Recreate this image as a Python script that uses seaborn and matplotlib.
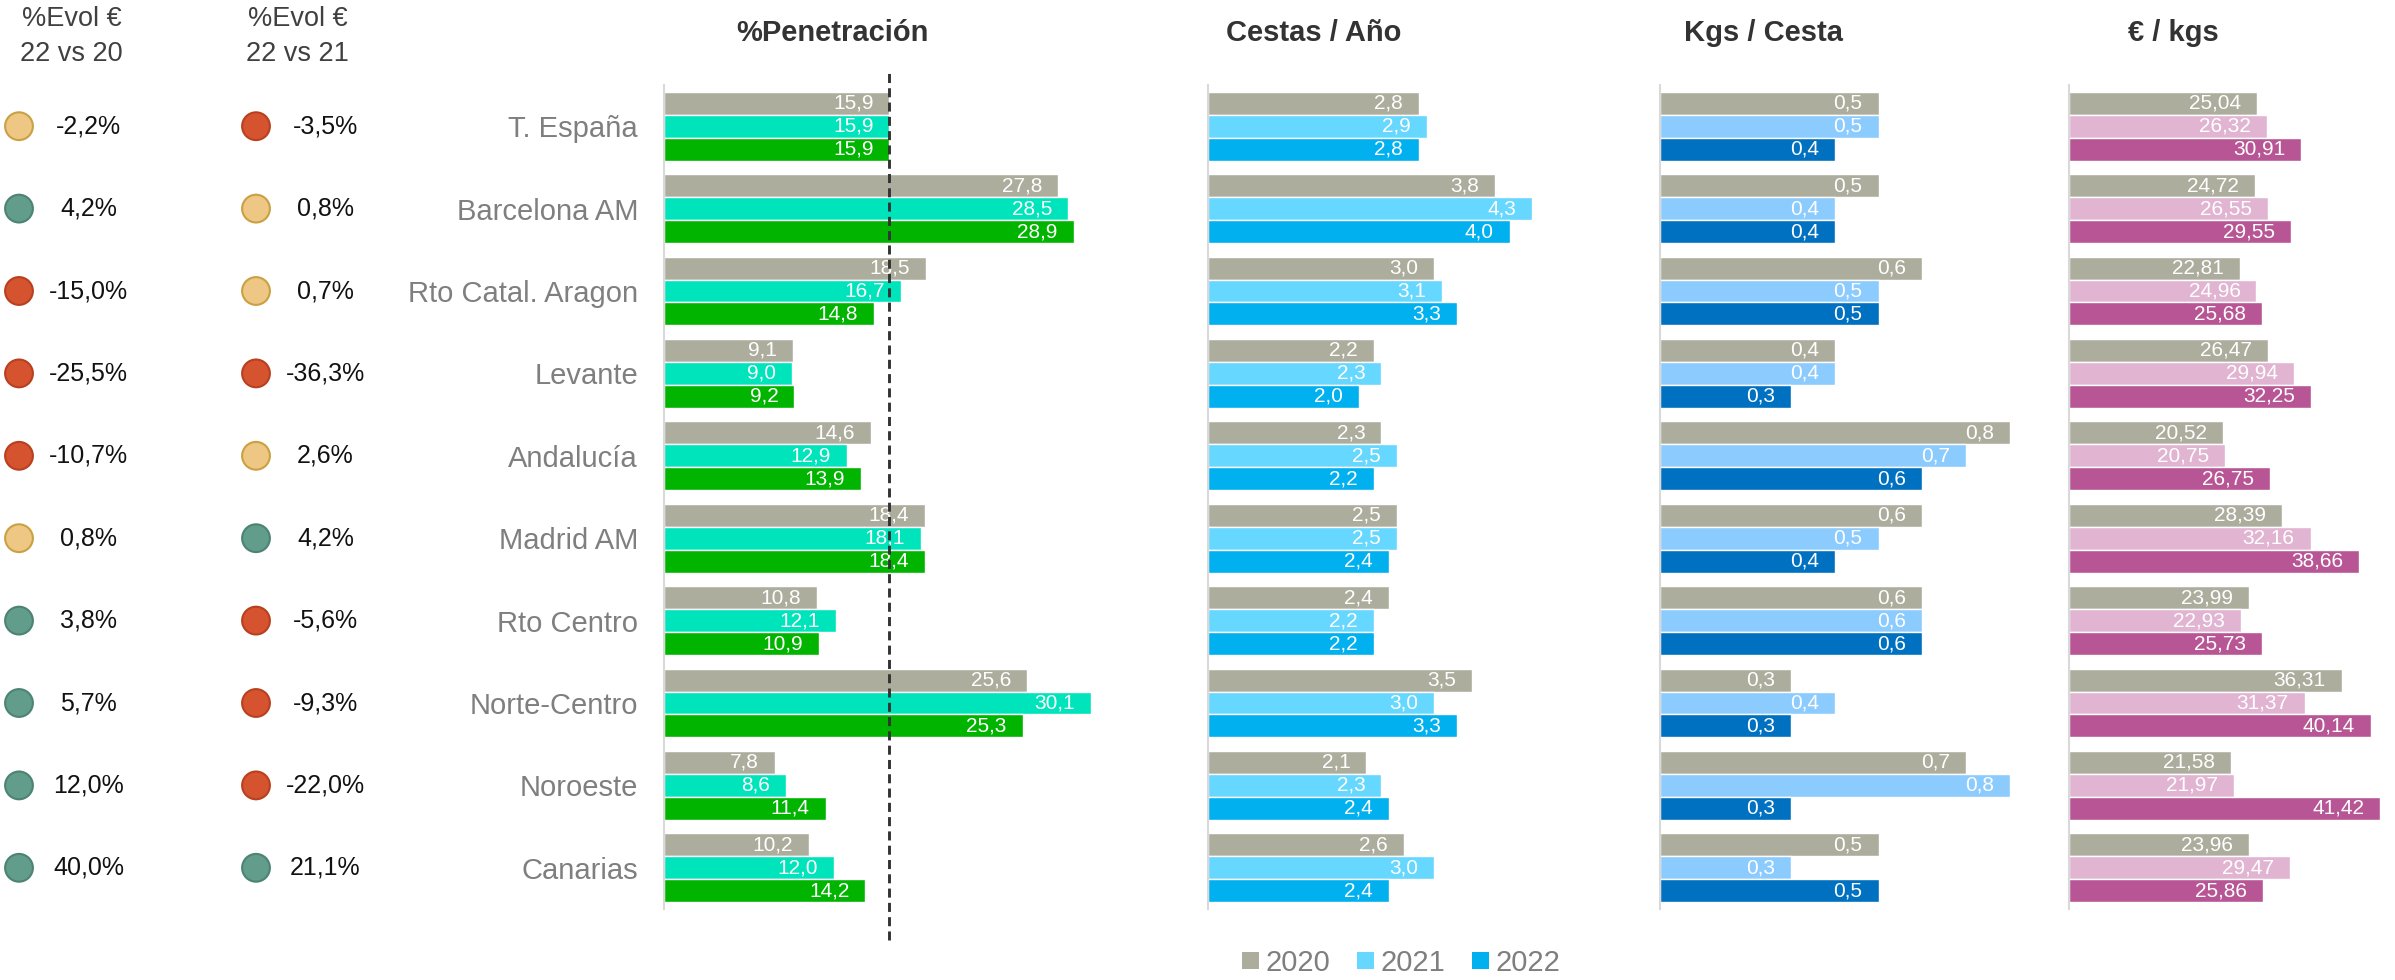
"""Regional panel: evolution dots plus penetration / baskets / kgs / price bars."""

import matplotlib.pyplot as plt
import pandas as pd
import seaborn as sns
from matplotlib.patches import Patch

W, H, DPI = 2395, 980, 100

regions = ["T. España", "Barcelona AM", "Rto Catal. Aragon", "Levante", "Andalucía",
           "Madrid AM", "Rto Centro", "Norte-Centro", "Noroeste", "Canarias"]
years = ["2020", "2021", "2022"]

evol_22_20 = [-2.2, 4.2, -15.0, -25.5, -10.7, 0.8, 3.8, 5.7, 12.0, 40.0]
evol_22_21 = [-3.5, 0.8, 0.7, -36.3, 2.6, 4.2, -5.6, -9.3, -22.0, 21.1]

pen_2020 = [15.9, 27.8, 18.5, 9.1, 14.6, 18.4, 10.8, 25.6, 7.8, 10.2]
pen_2021 = [15.9, 28.5, 16.7, 9.0, 12.9, 18.1, 12.1, 30.1, 8.6, 12.0]
pen_2022 = [15.9, 28.9, 14.8, 9.2, 13.9, 18.4, 10.9, 25.3, 11.4, 14.2]

cestas_2020 = [2.8, 3.8, 3.0, 2.2, 2.3, 2.5, 2.4, 3.5, 2.1, 2.6]
cestas_2021 = [2.9, 4.3, 3.1, 2.3, 2.5, 2.5, 2.2, 3.0, 2.3, 3.0]
cestas_2022 = [2.8, 4.0, 3.3, 2.0, 2.2, 2.4, 2.2, 3.3, 2.4, 2.4]

kgs_2020 = [0.5, 0.5, 0.6, 0.4, 0.8, 0.6, 0.6, 0.3, 0.7, 0.5]
kgs_2021 = [0.5, 0.4, 0.5, 0.4, 0.7, 0.5, 0.6, 0.4, 0.8, 0.3]
kgs_2022 = [0.4, 0.4, 0.5, 0.3, 0.6, 0.4, 0.6, 0.3, 0.3, 0.5]

euro_2020 = [25.04, 24.72, 22.81, 26.47, 20.52, 28.39, 23.99, 36.31, 21.58, 23.96]
euro_2021 = [26.32, 26.55, 24.96, 29.94, 20.75, 32.16, 22.93, 31.37, 21.97, 29.47]
euro_2022 = [30.91, 29.55, 25.68, 32.25, 26.75, 38.66, 25.73, 40.14, 41.42, 25.86]

GREY = "#adad9e"
FILL = {"bad": "#d6532f", "flat": "#edc783", "good": "#629c8b"}
EDGE = {"bad": "#b8401f", "flat": "#c9a142", "good": "#4c8372"}

# (title, title x px, axes left px, axes width px, xlim max, decimals, series, colours)
PANELS = [
    ("%Penetración", 832, 664, 536, 37.8, 1, [pen_2020, pen_2021, pen_2022],
     [GREY, "#00e4bb", "#00b400"]),
    ("Cestas / Año", 1314, 1208, 445, 5.9, 1, [cestas_2020, cestas_2021, cestas_2022],
     [GREY, "#66d7fe", "#00b0ef"]),
    ("Kgs / Cesta", 1764, 1660, 400, 0.915, 1, [kgs_2020, kgs_2021, kgs_2022],
     [GREY, "#8ccbfe", "#0070c0"]),
    ("€ / kgs", 2173, 2069, 326, 43.4, 2, [euro_2020, euro_2021, euro_2022],
     [GREY, "#e1b5d2", "#b85695"]),
]

AX_TOP, AX_BOTTOM = 85, 909


def fmt(v, dec):
    return f"{v:.{dec}f}".replace(".", ",")


def status(v):
    if v >= 3:
        return "good"
    if v <= -3:
        return "bad"
    return "flat"


def axes_rect(left_px, width_px):
    return [left_px / W, 1 - AX_BOTTOM / H, width_px / W, (AX_BOTTOM - AX_TOP) / H]


sns.set_theme(style="white")
plt.rcParams["font.family"] = ["Liberation Sans", "DejaVu Sans"]

fig = plt.figure(figsize=(W / DPI, H / DPI), dpi=DPI)

# --- evolution dots ---
ax_ev = fig.add_axes(axes_rect(0, 500))
evol = pd.DataFrame({
    "col": [0] * len(regions) + [1] * len(regions),
    "row": list(range(len(regions))) * 2,
    "value": evol_22_20 + evol_22_21,
})
evol["estado"] = evol["value"].map(status)
sns.scatterplot(data=evol, x="col", y="row", hue="estado", palette=FILL, marker="o",
                s=400, linewidth=1.5, legend=False, ax=ax_ev, zorder=3)
ax_ev.collections[0].set_edgecolor([EDGE[e] for e in evol["estado"]])
for _, r in evol.iterrows():
    ax_ev.annotate(f"{r['value']:.1f}%".replace(".", ","), (r["col"], r["row"]),
                   xytext=(50, 0), textcoords="offset points", ha="center", va="center",
                   fontsize=18, color="#111111")
for col, (head, dx) in enumerate([("%Evol €\n22 vs 20", 38), ("%Evol €\n22 vs 21", 30)]):
    ax_ev.annotate(head, (col, -0.5), xytext=(dx, 35), textcoords="offset points",
                   ha="center", va="center", fontsize=19.5, color="#404040", linespacing=1.42,
                   annotation_clip=False)
ax_ev.set_xlim(-19 / 237, -19 / 237 + 500 / 237)
ax_ev.set_ylim(len(regions) - 0.5, -0.5)
ax_ev.axis("off")

# --- bar panels ---
for i, (title, tx, left, width, xmax, dec, series, colours) in enumerate(PANELS):
    ax = fig.add_axes(axes_rect(left, width))
    df = pd.DataFrame({
        "region": regions * 3,
        "year": [y for y in years for _ in regions],
        "value": [v for s in series for v in s],
    })
    sns.barplot(data=df, x="value", y="region", hue="year", hue_order=years, order=regions,
                orient="h", palette=dict(zip(years, colours)), saturation=1, width=0.834,
                gap=0, errorbar=None, legend=False, ax=ax)
    for cont, s in zip(ax.containers, series):
        texts = ax.bar_label(cont, labels=[fmt(v, dec) for v in s], padding=-11.5,
                             color="white", fontsize=15)
        for t in texts:
            t.set_ha("right")
    ax.set_xlim(0, xmax)
    ax.set_ylim(len(regions) - 0.5, -0.5)
    ax.set_xlabel("")
    ax.set_ylabel("")
    ax.xaxis.set_visible(False)
    for side in ["top", "right", "bottom"]:
        ax.spines[side].set_visible(False)
    ax.spines["left"].set_color("#d9d9d9")
    ax.spines["left"].set_linewidth(1.5)
    if i == 0:
        ax.tick_params(axis="y", length=0, pad=18.7, labelsize=21, labelcolor="#7f7f7f")
        ax.axvline(pen_2022[0], ymin=-0.038, ymax=1.017, color="#333333", lw=2.1,
                   ls=(0, (3.1, 1.8)), clip_on=False, zorder=5)
    else:
        ax.set_yticklabels([])
        ax.tick_params(axis="y", length=0)
    fig.text(tx / W, 1 - 33 / H, title, ha="center", va="center", fontsize=21,
             fontweight="bold", color="#333333")

handles = [Patch(facecolor=c, edgecolor="none", label=y)
           for y, c in zip(years, PANELS[1][7])]
fig.legend(handles=handles, loc="center", bbox_to_anchor=(1401 / W, 1 - 963 / H), ncol=3,
           frameon=False, fontsize=21, labelcolor="#7f7f7f", handlelength=0.59,
           handleheight=0.52, handletextpad=0.22, columnspacing=0.92,
           borderpad=0, borderaxespad=0)

fig.savefig("out.png", dpi=DPI)
